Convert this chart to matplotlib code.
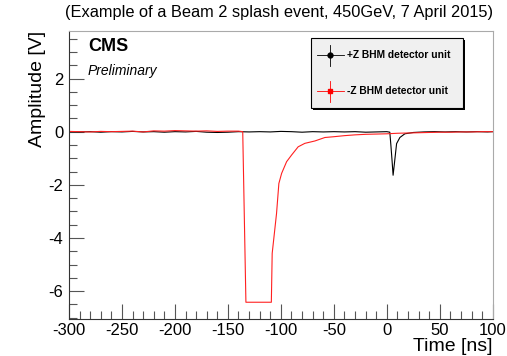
import matplotlib.pyplot as plt
from matplotlib.patches import Rectangle
from matplotlib.ticker import MultipleLocator

plt.rcParams["font.family"] = ["Liberation Sans", "DejaVu Sans"]
plt.rcParams["axes.unicode_minus"] = False

# +Z BHM detector unit (black)
t_plus = [-300, -290, -280, -270, -260, -250, -240, -230, -220, -210, -200,
          -190, -180, -170, -160, -150, -140, -130, -120, -110, -100, -90,
          -80, -70, -60, -50, -40, -30, -20, -10, 0, 2.8, 3.8, 5.0, 5.9,
          7.0, 9.2, 12.3, 17, 25, 35, 45, 55, 65, 75, 85, 95, 100]
v_plus = [0.0, -0.01, 0.0, -0.02, 0.0, -0.01, 0.01, -0.01, 0.0, -0.02, 0.0,
          -0.01, 0.01, -0.02, -0.03, -0.02, 0.0, -0.01, 0.0, -0.01, 0.01, 0.0,
          -0.02, 0.0, -0.01, 0.0, -0.01, 0.0, -0.02, -0.01, 0.0, -0.02, -0.5, -1.13, -1.64,
          -1.25, -0.45, -0.22, -0.08, -0.03, -0.01, 0.0, -0.01, 0.0, -0.01, 0.0, -0.01, 0.0]

# -Z BHM detector unit (red)
t_minus = [-300, -290, -280, -270, -260, -250, -240, -230, -220, -210, -200,
           -190, -180, -170, -160, -150, -140, -136, -133, -109, -108.2,
           -104.1, -101.9, -99.3, -94.6, -89.9, -83.7, -77.4, -67.9, -58.5,
           -50, -40, -30, -20, -10, 0, 10, 20, 30, 40, 50, 60, 70, 80, 90, 100]
v_minus = [0.01, 0.0, -0.01, 0.01, 0.0, 0.01, 0.02, -0.01, 0.03, 0.02, 0.04,
           0.03, 0.02, 0.03, 0.01, 0.02, 0.02, 0.0, -6.42, -6.42, -4.58,
           -3.08, -1.95, -1.57, -1.13, -0.88, -0.57, -0.44, -0.35, -0.22,
           -0.19, -0.15, -0.12, -0.1, -0.09, -0.08, -0.06, -0.05, -0.04, -0.03, -0.02, -0.02, -0.01, -0.01, 0.0, 0.0]

fig = plt.figure(figsize=(5.07, 3.56), dpi=100)
ax = fig.add_axes([0.136, 0.104, 0.836, 0.809])

ax.plot(t_plus, v_plus, color="black", lw=0.8)
ax.plot(t_minus, v_minus, color="#ff2020", lw=0.8)

ax.set_xlim(-300, 100)
ax.set_ylim(-7.05, 3.79)
ax.xaxis.set_major_locator(MultipleLocator(50))
ax.xaxis.set_minor_locator(MultipleLocator(10))
ax.yaxis.set_major_locator(MultipleLocator(2))
ax.yaxis.set_minor_locator(MultipleLocator(0.5))
ax.tick_params(which="both", direction="in", labelsize=12, color="#555555")
ax.tick_params(which="major", length=11, width=0.8)
ax.tick_params(which="minor", length=5.5, width=0.8)
ax.tick_params(axis="x", pad=3)
ax.tick_params(axis="y", pad=4)
for side in ["top", "right"]:
    ax.spines[side].set_color("#aaaaaa")
for side in ["left", "bottom"]:
    ax.spines[side].set_color("#333333")

ax.set_xlabel("Time [ns]", fontsize=14, loc="right", labelpad=0)
ax.set_ylabel("Amplitude [V]", fontsize=14, loc="top", labelpad=2)

fig.text(0.972, 0.985, "(Example of a Beam 2 splash event, 450GeV, 7 April 2015)",
         fontsize=11.8, ha="right", va="top")

ax.text(0.045, 0.975, "CMS", transform=ax.transAxes, fontsize=13,
        fontweight="bold", va="top")
ax.text(0.045, 0.885, "Preliminary", transform=ax.transAxes, fontsize=10,
        style="italic", va="top")

# legend box with shadow
ax.add_patch(Rectangle((0.575, 0.725), 0.36, 0.245, transform=ax.transAxes,
                       facecolor="black", edgecolor="none", zorder=5))
ax.add_patch(Rectangle((0.571, 0.732), 0.358, 0.245, transform=ax.transAxes,
                       facecolor="#f0f0f0", edgecolor="black", lw=0.8, zorder=6))
entries = [("black", "o", 0.915, "+Z BHM detector unit"),
           ("red", "s", 0.79, "-Z BHM detector unit")]
for col, mk, yy, lab in entries:
    ax.plot([0.585, 0.648], [yy, yy], color=col, lw=0.6, transform=ax.transAxes, zorder=7)
    ax.plot([0.616, 0.616], [yy - 0.035, yy + 0.035], color=col, lw=0.6,
            transform=ax.transAxes, zorder=7)
    ax.plot([0.616], [yy], marker=mk, color=col, ms=3.5, transform=ax.transAxes, zorder=8)
    ax.text(0.655, yy, lab, transform=ax.transAxes, fontsize=7.4,
            fontweight="bold", va="center", zorder=8)

fig.savefig("out.png", dpi=100)
